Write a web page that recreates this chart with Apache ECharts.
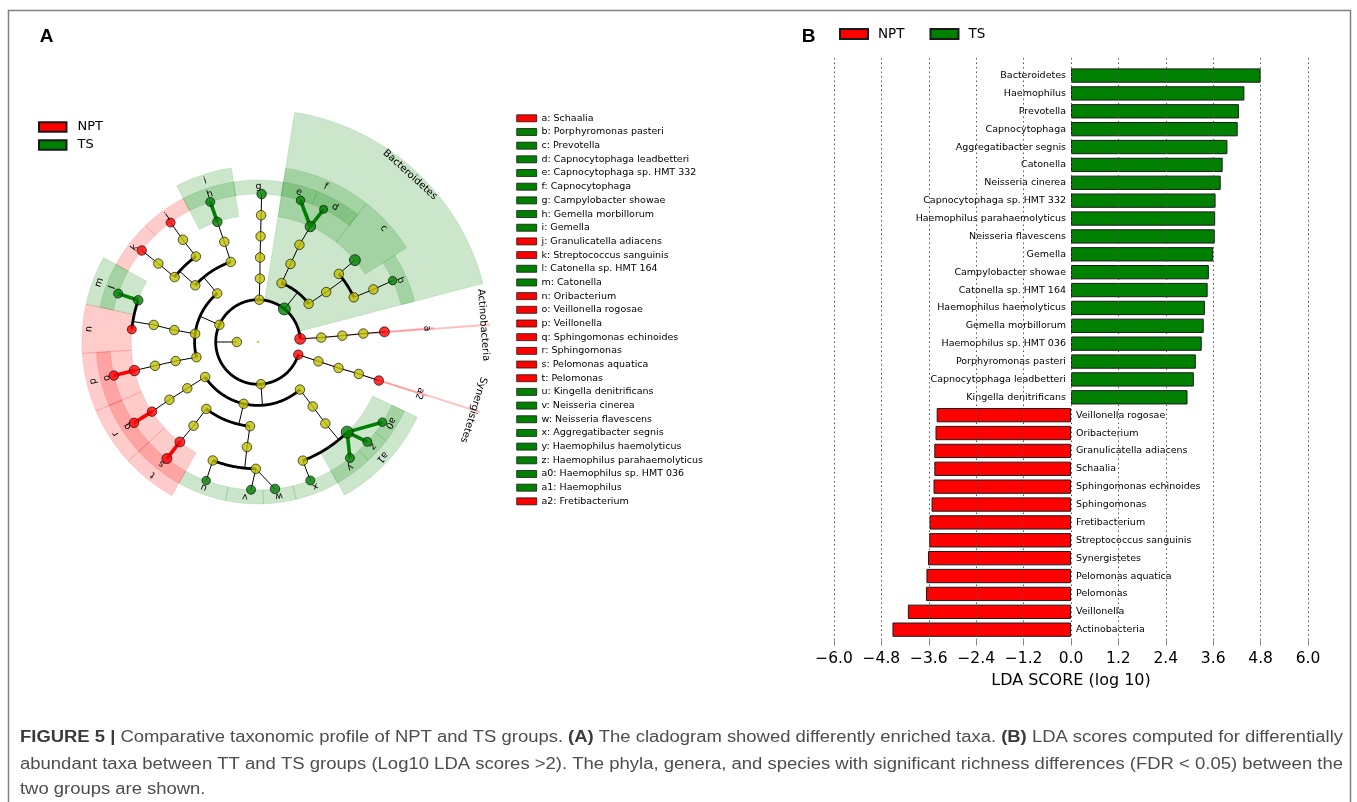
<!DOCTYPE html>
<html>
<head>
<meta charset="utf-8">
<title>Taxonomic profile of NPT and TS groups</title>
<script src="https://cdn.jsdelivr.net/npm/echarts@6/dist/echarts.min.js"></script>
<style>
  html, body { margin: 0; padding: 0; background: #ffffff; }
  #chart { width: 1357px; height: 802px; }
</style>
</head>
<body>
<div id="chart"></div>
<script>
// ---------------- Panel B: LDA scores ----------------
const ldaTaxa = [
  'Bacteroidetes', 'Haemophilus', 'Prevotella', 'Capnocytophaga', 'Aggregatibacter segnis',
  'Catonella', 'Neisseria cinerea', 'Capnocytophaga sp. HMT 332', 'Haemophilus parahaemolyticus',
  'Neisseria flavescens', 'Gemella', 'Campylobacter showae', 'Catonella sp. HMT 164',
  'Haemophilus haemolyticus', 'Gemella morbillorum', 'Haemophilus sp. HMT 036',
  'Porphyromonas pasteri', 'Capnocytophaga leadbetteri', 'Kingella denitrificans',
  'Veillonella rogosae', 'Oribacterium', 'Granulicatella adiacens', 'Schaalia',
  'Sphingomonas echinoides', 'Sphingomonas', 'Fretibacterium', 'Streptococcus sanguinis',
  'Synergistetes', 'Pelomonas aquatica', 'Pelomonas', 'Veillonella', 'Actinobacteria'
];
const ldaScores = [
  4.80, 4.39, 4.25, 4.22, 3.96, 3.84, 3.79, 3.66, 3.65, 3.64, 3.60, 3.49, 3.46, 3.39, 3.36, 3.31, 3.16, 3.11, 2.95,
  -3.40, -3.43, -3.46, -3.46, -3.48, -3.53, -3.58, -3.59, -3.62, -3.66, -3.67, -4.13, -4.52
];
const ldaGroups = [
  'TS', 'TS', 'TS', 'TS', 'TS', 'TS', 'TS', 'TS', 'TS', 'TS', 'TS', 'TS', 'TS', 'TS', 'TS', 'TS', 'TS', 'TS', 'TS',
  'NPT', 'NPT', 'NPT', 'NPT', 'NPT', 'NPT', 'NPT', 'NPT', 'NPT', 'NPT', 'NPT', 'NPT', 'NPT'
];
const ldaAxisMin = -6.0;
const ldaAxisMax = 6.0;
const ldaAxisStep = 1.2;

const groupNames = ['NPT', 'TS'];
const groupColors = { NPT: '#ff0000', TS: '#008000' };
const groupHighlight = { NPT: 'rgba(255,0,0,0.2)', TS: 'rgba(0,128,0,0.2)' };
const neutralNode = '#bfbf00';

// ---------------- Panel A: cladogram ----------------
// [id, parent, level (0 = centre ... 7 = species), angle (deg), enriched group, node diameter, label]
const cladeNodes = [
  ['root', null, 0, 0, null, 2.5, ''],
  ['Bacteria', null, 1, 180.0, null, 9.5, ''],
  // Actinobacteria
  ['Actinobacteria', 'Bacteria', 2, 4.3, 'NPT', 11, 'Actinobacteria'],
  ['act3', 'Actinobacteria', 3, 4.0, null, 9.5, ''],
  ['act4', 'act3', 4, 4.3, null, 9.5, ''],
  ['act5', 'act4', 5, 4.6, null, 9.5, ''],
  ['a', 'act5', 6, 4.6, 'NPT', 10, 'a'],
  // Bacteroidetes
  ['Bacteroidetes', 'Bacteria', 2, 51.4, 'TS', 12, 'Bacteroidetes'],
  ['flav3', 'Bacteroidetes', 3, 68.2, null, 9.5, ''],
  ['flav4', 'flav3', 4, 67.4, null, 9.5, ''],
  ['flav5', 'flav4', 5, 66.9, null, 9.5, ''],
  ['f', 'flav5', 6, 65.6, 'TS', 10.5, 'f'],
  ['e', 'f', 7, 73.3, 'TS', 8.5, 'e'],
  ['d', 'f', 7, 63.7, 'TS', 8, 'd'],
  ['bact3', 'Bacteroidetes', 3, 37.0, null, 9.5, ''],
  ['bact4', 'bact3', 4, 36.2, null, 9.5, ''],
  ['prev5', 'bact4', 5, 40.1, null, 9.5, ''],
  ['c', 'prev5', 6, 40.2, 'TS', 11, 'c'],
  ['porph5', 'bact4', 5, 25.0, null, 9.5, ''],
  ['porph6', 'porph5', 6, 24.5, null, 9.5, ''],
  ['b', 'porph6', 7, 24.5, 'TS', 8.5, 'b'],
  // Campylobacterota
  ['Campylobacterota', 'Bacteria', 2, 88.3, null, 9.5, ''],
  ['camp3', 'Campylobacterota', 3, 88.3, null, 9.5, ''],
  ['camp4', 'camp3', 4, 88.6, null, 9.5, ''],
  ['camp5', 'camp4', 5, 88.6, null, 9.5, ''],
  ['camp6', 'camp5', 6, 88.6, null, 9.5, ''],
  ['g', 'camp6', 7, 88.6, 'TS', 9.5, 'g'],
  // Firmicutes
  ['Firmicutes', 'Bacteria', 2, 156.1, null, 9.5, ''],
  ['bacilli3', 'Firmicutes', 3, 130.0, null, 9.5, ''],
  ['bacillales4', 'bacilli3', 4, 108.8, null, 9.5, ''],
  ['gemella5', 'bacillales4', 5, 108.6, null, 9.5, ''],
  ['i', 'gemella5', 6, 108.7, 'TS', 9.5, 'i'],
  ['h', 'i', 7, 108.8, 'TS', 9, 'h'],
  ['lacto4', 'bacilli3', 4, 137.9, null, 9.5, ''],
  ['carno5', 'lacto4', 5, 126.0, null, 9.5, ''],
  ['granu6', 'carno5', 6, 126.3, null, 9.5, ''],
  ['j', 'granu6', 7, 126.2, 'NPT', 9, 'j'],
  ['strep5', 'lacto4', 5, 142.1, null, 9.5, ''],
  ['strep6', 'strep5', 6, 141.8, null, 9.5, ''],
  ['k', 'strep6', 7, 141.8, 'NPT', 9.5, 'k'],
  ['clost3', 'Firmicutes', 3, 172.5, null, 9.5, ''],
  ['lachno4', 'clost3', 4, 171.9, null, 9.5, ''],
  ['lachno5', 'lachno4', 5, 170.7, null, 9.5, ''],
  ['m', 'lachno5', 6, 160.8, 'TS', 9.5, 'm'],
  ['l', 'm', 7, 160.9, 'TS', 9, 'l'],
  ['n', 'lachno5', 6, 174.3, 'NPT', 9, 'n'],
  ['negati3', 'Firmicutes', 3, 193.9, null, 9.5, ''],
  ['veill4', 'negati3', 4, 193.0, null, 9.5, ''],
  ['veill5', 'veill4', 5, 193.0, null, 9.5, ''],
  ['p', 'veill5', 6, 193.0, 'NPT', 10.5, 'p'],
  ['o', 'p', 7, 193.1, 'NPT', 9.5, 'o'],
  // Proteobacteria
  ['Proteobacteria', 'Bacteria', 2, 274.0, null, 9.5, ''],
  ['alpha3', 'Proteobacteria', 3, 213.5, null, 9.5, ''],
  ['sphingo4', 'alpha3', 4, 213.2, null, 9.5, ''],
  ['sphingo5', 'sphingo4', 5, 213.1, null, 9.5, ''],
  ['r', 'sphingo5', 6, 213.3, 'NPT', 9.5, 'r'],
  ['q', 'r', 7, 213.1, 'NPT', 9.5, 'q'],
  ['beta3', 'Proteobacteria', 3, 256.9, null, 9.5, ''],
  ['burk4', 'beta3', 4, 232.3, null, 9.5, ''],
  ['comam5', 'burk4', 5, 232.4, null, 9.5, ''],
  ['t', 'comam5', 6, 232.0, 'NPT', 10, 't'],
  ['s', 't', 7, 232.0, 'NPT', 10, 's'],
  ['neiss4', 'beta3', 4, 264.6, null, 9.5, ''],
  ['neiss5', 'neiss4', 5, 264.0, null, 9.5, ''],
  ['kingella6', 'neiss5', 6, 249.1, null, 9.5, ''],
  ['u', 'kingella6', 7, 249.5, 'TS', 8.5, 'u'],
  ['neiss6', 'neiss5', 6, 269.0, null, 9.5, ''],
  ['v', 'neiss6', 7, 267.3, 'TS', 9, 'v'],
  ['w', 'neiss6', 7, 276.6, 'TS', 9.5, 'w'],
  ['gamma3', 'Proteobacteria', 3, 311.4, null, 9.5, ''],
  ['past4', 'gamma3', 4, 310.3, null, 9.5, ''],
  ['past5', 'past4', 5, 309.6, null, 9.5, ''],
  ['aggr6', 'past5', 6, 290.7, null, 9.5, ''],
  ['x', 'aggr6', 7, 290.7, 'TS', 9, 'x'],
  ['a1', 'past5', 6, 314.7, 'TS', 12, 'a1'],
  ['y', 'a1', 7, 308.4, 'TS', 9, 'y'],
  ['z', 'a1', 7, 317.6, 'TS', 9, 'z'],
  ['a0', 'a1', 7, 327.2, 'TS', 8.5, 'a0'],
  // Synergistetes
  ['Synergistetes', 'Bacteria', 2, 342.5, 'NPT', 9.5, 'Synergistetes'],
  ['syn3', 'Synergistetes', 3, 342.2, null, 9.5, ''],
  ['syn4', 'syn3', 4, 342.1, null, 9.5, ''],
  ['syn5', 'syn4', 5, 342.4, null, 9.5, ''],
  ['a2', 'syn5', 6, 342.3, 'NPT', 9.5, 'a2']
];
// clades whose highlight collapses to a hairline wedge
const hairlineClades = ['Actinobacteria', 'a', 'Synergistetes', 'a2'];

// key printed beside the cladogram
const keyLetters = ['a', 'b', 'c', 'd', 'e', 'f', 'g', 'h', 'i', 'j', 'k', 'l', 'm', 'n', 'o',
  'p', 'q', 'r', 's', 't', 'u', 'v', 'w', 'x', 'y', 'z', 'a0', 'a1', 'a2'];
const keyTaxa = ['Schaalia', 'Porphyromonas pasteri', 'Prevotella', 'Capnocytophaga leadbetteri',
  'Capnocytophaga sp. HMT 332', 'Capnocytophaga', 'Campylobacter showae', 'Gemella morbillorum',
  'Gemella', 'Granulicatella adiacens', 'Streptococcus sanguinis', 'Catonella sp. HMT 164',
  'Catonella', 'Oribacterium', 'Veillonella rogosae', 'Veillonella', 'Sphingomonas echinoides',
  'Sphingomonas', 'Pelomonas aquatica', 'Pelomonas', 'Kingella denitrificans', 'Neisseria cinerea',
  'Neisseria flavescens', 'Aggregatibacter segnis', 'Haemophilus haemolyticus',
  'Haemophilus parahaemolyticus', 'Haemophilus sp. HMT 036', 'Haemophilus', 'Fretibacterium'];

// figure caption, split into runs of [text, bold]
const captionLines = [
  [['FIGURE 5 |', true], [' Comparative taxonomic profile of NPT and TS groups. ', false], ['(A)', true],
   [' The cladogram showed differently enriched taxa. ', false], ['(B)', true],
   [' LDA scores computed for differentially', false]],
  [['abundant taxa between TT and TS groups (Log10 LDA scores >2). The phyla, genera, and species with significant richness differences (FDR < 0.05) between the', false]],
  [['two groups are shown.', false]]
];

// ---------------- tree bookkeeping ----------------
const nodes = {};
cladeNodes.forEach(([id, parent, level, angle, group, size, label]) => {
  nodes[id] = { id, parent, level, angle, group, size, label, kids: [] };
});
const nodeList = Object.values(nodes);
nodeList.forEach(n => { if (n.parent) nodes[n.parent].kids.push(n); });

// leaves own the angular range half-way to their neighbours
const leaves = nodeList.filter(n => n.level > 0 && n.kids.length === 0).sort((p, q) => p.angle - q.angle);
leaves.forEach((lf, i) => {
  const prev = i === 0 ? leaves[leaves.length - 1].angle - 360 : leaves[i - 1].angle;
  const next = i === leaves.length - 1 ? leaves[0].angle + 360 : leaves[i + 1].angle;
  lf.span = [(prev + lf.angle) / 2, (lf.angle + next) / 2];
});
function cladeSpan(n) {
  if (!n.kids.length) return n.span.slice();
  const s = n.kids.map(cladeSpan);
  return [Math.min(...s.map(v => v[0])), Math.max(...s.map(v => v[1]))];
}
const bandOuter = level => 7.66 + (7 - level) * 0.668;

// connectors: [r1, a1, r2, a2, kind (0 line, 1 arc), style]
const edgeStyles = [
  { stroke: '#000000', lineWidth: 1 },
  { stroke: '#000000', lineWidth: 2.8 },
  { stroke: groupColors.TS, lineWidth: 3.6 },
  { stroke: groupColors.NPT, lineWidth: 3.6 }
];
const edgeData = [];
nodeList.forEach(p => {
  if (!p.kids.length) return;
  const direct = p.kids.length === 1 || p.kids.every(k => k.level === 7);
  if (direct) {
    p.kids.forEach(k => {
      let st = 0;
      if (p.group && p.group === k.group) st = p.group === 'TS' ? 2 : 3;
      edgeData.push([p.level, p.angle, k.level, k.angle, 0, st]);
    });
  } else {
    const lc = p.kids[0].level;
    const angs = p.kids.map(k => k.angle);
    edgeData.push([p.level, p.angle, lc, p.angle, 0, 0]);
    edgeData.push([lc, Math.min(...angs), lc, Math.max(...angs), 1, 1]);
  }
});
edgeData.sort((u, v) => u[5] - v[5]);

// highlighted clades: [rInner, rOuter, aStart, aEnd, groupIndex]
const markers = nodeList.filter(n => n.group && n.level > 0).sort((p, q) => p.level - q.level);
const sectorData = [];
const labelData = [];
const labelTexts = [];
markers.forEach(n => {
  const span = hairlineClades.includes(n.id) ? [n.angle - 0.2, n.angle + 0.2] : cladeSpan(n);
  const outer = bandOuter(n.level);
  sectorData.push([n.level, outer, span[0], span[1], groupNames.indexOf(n.group)]);
  labelTexts.push(n.label);
  labelData.push([outer - 0.31, (span[0] + span[1]) / 2, labelTexts.length - 1, n.level]);
});

const nodeData = nodeList.map(n => ({
  value: [n.level, n.angle],
  symbolSize: n.size,
  itemStyle: {
    color: n.group ? groupColors[n.group] : neutralNode,
    borderColor: '#000000',
    borderWidth: n.level === 0 ? 0 : 0.8
  }
}));

// ---------------- caption sizing ----------------
const captionFamily = 'Liberation Sans';
const captionSize = 16;
const measureCtx = document.createElement('canvas').getContext('2d');
function runsWidth(runs) {
  let w = 0;
  runs.forEach(([t, b]) => {
    measureCtx.font = (b ? 'bold ' : '') + captionSize + 'px "' + captionFamily + '"';
    w += measureCtx.measureText(t).width;
  });
  return w;
}
const captionWidth = 1323;
const captionScale0 = captionWidth / runsWidth(captionLines[0]);
const captionY = [737.5, 764.5, 789.5];
const captionGraphics = captionLines.map((runs, i) => ({
  type: 'text',
  x: 20,
  y: captionY[i],
  scaleX: i < 2 ? captionWidth / runsWidth(runs) : captionScale0,
  silent: true,
  style: {
    text: runs.map(([t, b]) => (b ? '{b|' + t + '}' : t)).join(''),
    fontSize: captionSize,
    fontFamily: captionFamily,
    fill: '#4d4d4d',
    align: 'left', verticalAlign: 'middle',
    textAlign: 'left', textVerticalAlign: 'middle',
    rich: { b: { fontWeight: 'bold', fontSize: captionSize, fontFamily: captionFamily, fill: '#3a3a3a' } }
  }
}));

// key beside the cladogram
const keyGraphics = [];
keyLetters.forEach((ltr, i) => {
  const yc = 118.3 + i * 13.68;
  const grp = nodes[ltr].group;
  keyGraphics.push({
    type: 'rect', silent: true,
    shape: { x: 516.7, y: yc - 3.5, width: 20, height: 7 },
    style: { fill: groupColors[grp], stroke: '#1a1a1a', lineWidth: 0.8 }
  });
  keyGraphics.push({
    type: 'text', silent: true, x: 541.5, y: yc,
    style: {
      text: ltr + ': ' + keyTaxa[i], fontSize: 9.5, fontFamily: 'DejaVu Sans', fill: '#000',
      align: 'left', verticalAlign: 'middle', textAlign: 'left', textVerticalAlign: 'middle'
    }
  });
});

// ---------------- option ----------------
const labelFmt = v => (v < 0 ? '\u2212' : '') + Math.abs(v).toFixed(1);

const option = {
  animation: false,
  backgroundColor: '#ffffff',
  textStyle: { fontFamily: 'DejaVu Sans' },
  graphic: { elements: [
    { type: 'rect', silent: true, shape: { x: 8.5, y: 10.5, width: 1342, height: 830 },
      style: { fill: 'none', stroke: '#808080', lineWidth: 1.5 } },
    { type: 'text', silent: true, x: 46.5, y: 37,
      style: { text: 'A', fontSize: 19, fontWeight: 'bold', fontFamily: 'Liberation Sans', fill: '#000',
        align: 'center', verticalAlign: 'middle', textAlign: 'center', textVerticalAlign: 'middle' } },
    { type: 'text', silent: true, x: 808.5, y: 37,
      style: { text: 'B', fontSize: 19, fontWeight: 'bold', fontFamily: 'Liberation Sans', fill: '#000',
        align: 'center', verticalAlign: 'middle', textAlign: 'center', textVerticalAlign: 'middle' } }
  ].concat(keyGraphics, captionGraphics) },
  legend: [
    { data: groupNames, left: 839, top: 27, orient: 'horizontal', padding: 0, itemWidth: 28, itemHeight: 10,
      itemGap: 25, icon: 'rect', selectedMode: false,
      textStyle: { fontSize: 13.5, fontFamily: 'DejaVu Sans', color: '#000', padding: [0, 0, 0, 5] } },
    { data: groupNames, left: 38, top: 120.5, orient: 'vertical', padding: 0, itemWidth: 27.5, itemHeight: 9.5,
      itemGap: 5, icon: 'rect', selectedMode: false,
      textStyle: { fontSize: 13, fontFamily: 'DejaVu Sans', color: '#000', padding: [0, 0, 0, 6] } }
  ],
  grid: [
    { left: 834, right: 49, top: 66.6, bottom: 163.4, outerBoundsMode: 'none' },
    { left: 834, right: 49, top: 58, bottom: 163.4, outerBoundsMode: 'none' }
  ],
  xAxis: [
    { gridIndex: 0, type: 'value', min: ldaAxisMin, max: ldaAxisMax, interval: ldaAxisStep,
      axisLine: { show: false }, splitLine: { show: false },
      axisTick: { show: true, length: 7, lineStyle: { color: '#888', width: 1 } },
      axisLabel: { fontSize: 15.5, fontFamily: 'DejaVu Sans', color: '#000', margin: 12, formatter: labelFmt },
      name: 'LDA SCORE (log 10)', nameLocation: 'middle', nameGap: 34,
      nameTextStyle: { fontSize: 16, fontFamily: 'DejaVu Sans', color: '#000' } },
    { gridIndex: 1, type: 'value', min: ldaAxisMin, max: ldaAxisMax, interval: ldaAxisStep, position: 'top', z: 5,
      axisLine: { show: false }, axisLabel: { show: false },
      axisTick: { show: true, inside: true, length: 5, lineStyle: { color: '#888', width: 1 } },
      splitLine: { show: true, lineStyle: { type: [1.5, 3], color: '#555', width: 1 } } }
  ],
  yAxis: [
    { gridIndex: 0, type: 'category', data: ldaTaxa, inverse: true, show: false },
    { gridIndex: 1, type: 'value', min: 0, max: 1, show: false }
  ],
  polar: { center: [258, 342], radius: 232.5 },
  angleAxis: { type: 'value', min: 0, max: 360, startAngle: 0, clockwise: false, show: false,
    axisLine: { show: false }, axisTick: { show: false }, axisLabel: { show: false }, splitLine: { show: false } },
  radiusAxis: { type: 'value', min: 0, max: 11, show: false,
    axisLine: { show: false }, axisTick: { show: false }, axisLabel: { show: false }, splitLine: { show: false } },
  series: [
    {
      name: 'TS', type: 'bar', xAxisIndex: 0, yAxisIndex: 0, barWidth: 14.3, barGap: '-100%',
      data: ldaScores.map((v, i) => (ldaGroups[i] === 'TS' ? v : '-')),
      itemStyle: { color: groupColors.TS, borderColor: '#1a1a1a', borderWidth: 1 },
      label: { show: true, position: 'left', distance: 5, formatter: p => p.name,
        fontSize: 9.5, fontFamily: 'DejaVu Sans', color: '#000' },
      silent: true
    },
    {
      name: 'NPT', type: 'bar', xAxisIndex: 0, yAxisIndex: 0, barWidth: 14.3, barGap: '-100%',
      data: ldaScores.map((v, i) => (ldaGroups[i] === 'NPT' ? v : '-')),
      itemStyle: { color: groupColors.NPT, borderColor: '#1a1a1a', borderWidth: 1 },
      label: { show: true, position: 'right', distance: 5, formatter: p => p.name,
        fontSize: 9.5, fontFamily: 'DejaVu Sans', color: '#000' },
      silent: true
    },
    {
      type: 'custom', coordinateSystem: 'polar', data: sectorData, z: 1, silent: true,
      encode: { radius: 0, angle: 2 },
      renderItem: (params, api) => {
        const r0 = api.value(0), r1 = api.value(1), a0 = api.value(2), a1 = api.value(3);
        const col = groupHighlight[groupNames[api.value(4)]];
        const n = Math.max(2, Math.ceil((a1 - a0) / 0.5));
        const pts = [];
        for (let k = 0; k <= n; k++) pts.push(api.coord([r1, a0 + (a1 - a0) * k / n]));
        for (let k = n; k >= 0; k--) pts.push(api.coord([r0, a0 + (a1 - a0) * k / n]));
        return { type: 'polygon', shape: { points: pts }, style: { fill: col, stroke: col, lineWidth: 0.6 } };
      }
    },
    {
      type: 'custom', coordinateSystem: 'polar', data: edgeData, z: 2, silent: true,
      encode: { radius: 0, angle: 1 },
      renderItem: (params, api) => {
        const r1 = api.value(0), a1 = api.value(1), r2 = api.value(2), a2 = api.value(3);
        const st = edgeStyles[api.value(5)];
        let pts;
        if (api.value(4) === 1) {
          pts = [];
          const n = Math.max(2, Math.ceil(Math.abs(a2 - a1) / 0.5));
          for (let k = 0; k <= n; k++) pts.push(api.coord([r1, a1 + (a2 - a1) * k / n]));
        } else {
          pts = [api.coord([r1, a1]), api.coord([r2, a2])];
        }
        return { type: 'polyline', shape: { points: pts },
          style: { fill: null, stroke: st.stroke, lineWidth: st.lineWidth, lineCap: 'butt' } };
      }
    },
    {
      type: 'scatter', coordinateSystem: 'polar', data: nodeData, z: 3, silent: true, symbol: 'circle'
    },
    {
      type: 'custom', coordinateSystem: 'polar', data: labelData, z: 4, silent: true,
      encode: { radius: 0, angle: 1 },
      renderItem: (params, api) => {
        const r = api.value(0), ang = api.value(1);
        const txt = labelTexts[api.value(2)];
        const pt = api.coord([r, ang]);
        const big = api.value(3) === 2;
        return { type: 'text', x: pt[0], y: pt[1], rotation: (ang - 90) * Math.PI / 180,
          style: { text: txt, fill: '#000', fontSize: big ? 10 : 9.5, fontFamily: 'DejaVu Sans',
            align: 'center', verticalAlign: 'middle', textAlign: 'center', textVerticalAlign: 'middle' } };
      }
    }
  ]
};

const chart = echarts.init(document.getElementById('chart'), null, { renderer: 'canvas' });
chart.setOption(option);
</script>
</body>
</html>
